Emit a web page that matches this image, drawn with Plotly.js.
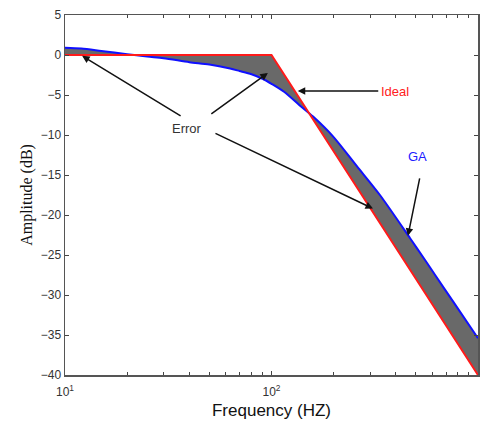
<!DOCTYPE html>
<html>
<head>
<meta charset="utf-8">
<script src="https://cdn.plot.ly/plotly-3.0.1.min.js"></script>
<style>html,body{margin:0;padding:0;background:#fff;}#chart{width:483px;height:427px;}</style>
</head>
<body>
<div id="chart"></div>
<script>
// Ideal response
const idealFreq = [10, 100, 1000];
const idealDb = [0, 0, -40];
// GA-designed response
const gaFreq = [10, 12, 15, 20, 25, 30, 40, 50, 63, 70, 80, 91, 100, 115, 137, 159, 199, 259, 335, 469, 553, 620, 757, 1000];
const gaDb = [0.9, 0.8, 0.5, 0.1, -0.2, -0.4, -0.9, -1.2, -1.7, -2.0, -2.4, -3.0, -3.6, -4.6, -6.3, -7.7, -10.2, -13.9, -17.5, -22.9, -25.6, -27.5, -30.8, -35.4];
// axis ticks
const xTickVals = [10, 100, 1000];
const xTickText = ['10<sup>1</sup>', '10<sup>2</sup>', '10<sup>3</sup>'];
const xMinorVals = [20,30,40,50,60,70,80,90,200,300,400,500,600,700,800,900];
const yTickVals = [-40,-35,-30,-25,-20,-15,-10,-5,0,5];

const traces = [
  {x: gaFreq, y: gaDb, type: 'scatter', mode: 'lines', line: {color: '#1010ff', width: 2, shape: 'spline', smoothing: 0.8}, hoverinfo: 'skip'},
  {x: idealFreq, y: idealDb, type: 'scatter', mode: 'lines', line: {color: '#ff1a1a', width: 2},
   fill: 'tonexty', fillcolor: '#696969', hoverinfo: 'skip'}
];

const arrowCommon = {showarrow: true, arrowhead: 2, arrowsize: 1, arrowwidth: 1.5, arrowcolor: '#111', text: '', xref: 'x', yref: 'y'};
const annFont = {family: 'Liberation Sans, Arial, sans-serif', size: 13};

const layout = {
  width: 483, height: 427,
  margin: {l: 65, r: 5, t: 15, b: 52},
  paper_bgcolor: '#fff', plot_bgcolor: '#fff',
  showlegend: false,
  font: {family: 'Liberation Sans, Arial, sans-serif', size: 12, color: '#333'},
  xaxis: {
    type: 'log', range: [1, 3],
    tickmode: 'array', tickvals: xTickVals, ticktext: xTickText,
    ticks: 'inside', ticklen: 4, tickcolor: '#444',
    minor: {tickmode: 'array', tickvals: xMinorVals, ticks: 'inside', ticklen: 3, tickcolor: '#444'},
    showline: true, linecolor: '#555', linewidth: 1.5, mirror: 'ticks',
    showgrid: false, zeroline: false,
    ticklabelstandoff: 5,
    tickfont: {size: 12, color: '#333'},
    title: {text: 'Frequency (HZ)', font: {family: 'Liberation Sans, Arial, sans-serif', size: 17, color: '#111'}, standoff: 6}
  },
  yaxis: {
    range: [-40, 5],
    tickmode: 'array', tickvals: yTickVals,
    ticks: 'inside', ticklen: 4, tickcolor: '#444',
    showline: true, linecolor: '#555', linewidth: 1.5, mirror: 'ticks',
    showgrid: false, zeroline: false,
    tickfont: {size: 12, color: '#333'},
    title: {text: 'Amplitude (dB)', font: {family: 'Liberation Serif, Times New Roman, serif', size: 16, color: '#111'}, standoff: 4}
  },
  annotations: [
    Object.assign({}, arrowCommon, {x: Math.log10(134), y: -4.5, ax: 82, ay: 0}),
    {x: Math.log10(134), y: -4.5, xref: 'x', yref: 'y', xshift: 97, showarrow: false, text: 'Ideal', font: Object.assign({}, annFont, {color: '#ff2020'})},
    Object.assign({}, arrowCommon, {x: Math.log10(458), y: -22.6, ax: 12, ay: -59}),
    {x: Math.log10(458), y: -22.6, xref: 'x', yref: 'y', xshift: 10, yshift: 79, showarrow: false, text: 'GA', font: Object.assign({}, annFont, {color: '#2020ff'})},
    Object.assign({}, arrowCommon, {x: Math.log10(12.1), y: -0.1, ax: 100, ay: 61}),
    Object.assign({}, arrowCommon, {x: Math.log10(96), y: -2.25, ax: -58, ay: 42}),
    Object.assign({}, arrowCommon, {x: Math.log10(310), y: -19.2, ax: -159, ay: -76}),
    {x: Math.log10(96), y: -2.25, xref: 'x', yref: 'y', xshift: -81, yshift: -55, showarrow: false, text: 'Error', font: Object.assign({}, annFont, {color: '#333'})}
  ]
};

Plotly.newPlot('chart', traces, layout, {staticPlot: true, displayModeBar: false});
</script>
</body>
</html>
